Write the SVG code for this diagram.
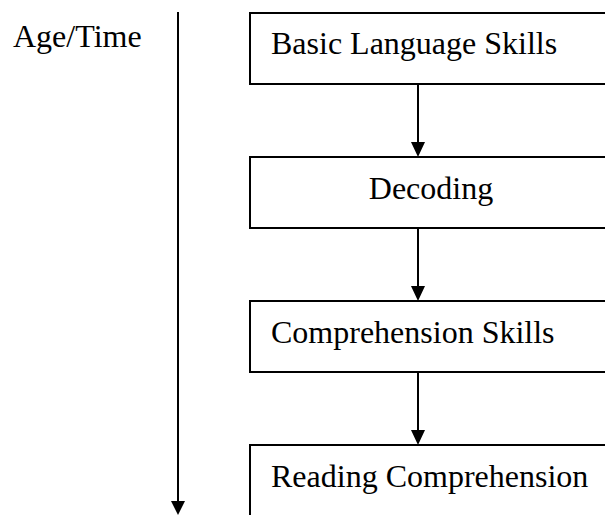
<svg xmlns="http://www.w3.org/2000/svg" width="605" height="515" viewBox="0 0 605 515">
<defs>
<style>
.box{fill:#fff;stroke:#000;stroke-width:2}
.lbl{font-family:"Liberation Serif","Times New Roman",serif;font-size:32px;fill:#000}
.con{stroke:#000;stroke-width:2;fill:none;marker-end:url(#ah)}
</style>
<marker id="ah" markerUnits="userSpaceOnUse" markerWidth="14" markerHeight="15" refX="7" refY="15" orient="auto" viewBox="0 0 14 15">
<path d="M0,0 L14,7.5 L0,15 Z" fill="#000" transform="rotate(90 7 7.5) translate(0.5 0) scale(1)"/>
</marker>
</defs>
<rect width="605" height="515" fill="#fff"/>
<g id="age-time">
<text class="lbl" x="13" y="47">Age/Time</text>
</g>
<g id="n1">
<rect class="box" x="250" y="13" width="362" height="71"/>
<text class="lbl" x="271" y="54">Basic Language Skills</text>
</g>
<g id="n2">
<rect class="box" x="250" y="157" width="362" height="71"/>
<text class="lbl" x="431" y="199" text-anchor="middle">Decoding</text>
</g>
<g id="n3">
<rect class="box" x="250" y="301" width="362" height="71"/>
<text class="lbl" x="271" y="343">Comprehension Skills</text>
</g>
<g id="n4">
<rect class="box" x="250" y="445" width="362" height="90"/>
<text class="lbl" x="271" y="487">Reading Comprehension</text>
</g>
<g id="connectors">
<line x1="178" y1="12" x2="178" y2="502" stroke="#000" stroke-width="2"/>
<path d="M171,501 L185,501 L178,515 Z" fill="#000"/>
<line x1="418" y1="84" x2="418" y2="143" stroke="#000" stroke-width="2"/>
<path d="M411,142 L425,142 L418,157 Z" fill="#000"/>
<line x1="418" y1="228" x2="418" y2="287" stroke="#000" stroke-width="2"/>
<path d="M411,286 L425,286 L418,301 Z" fill="#000"/>
<line x1="418" y1="372" x2="418" y2="431" stroke="#000" stroke-width="2"/>
<path d="M411,430 L425,430 L418,445 Z" fill="#000"/>
</g>
</svg>
